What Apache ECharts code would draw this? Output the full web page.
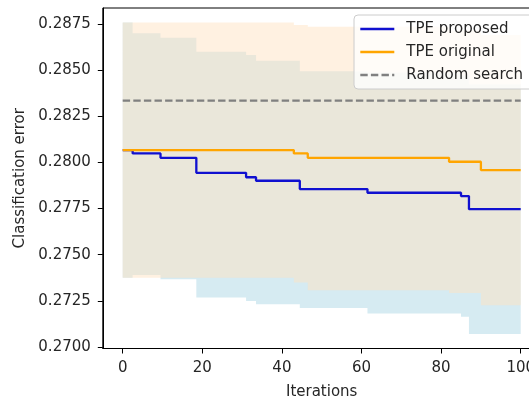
<!DOCTYPE html>
<html>
<head>
<meta charset="utf-8">
<script src="https://cdn.jsdelivr.net/npm/echarts@6/dist/echarts.min.js"></script>
<style>
  html, body { margin: 0; padding: 0; background: #fff; }
  #chart { width: 529px; height: 398px; }
</style>
</head>
<body>
<div id="chart"></div>
<script>
// step breakpoints (value holds until the next iteration)
const blueIters = [0, 2.5, 9.5, 18.5, 31, 33.5, 44.5, 61.5, 85, 87, 100]
const blueMean = [0.28067, 0.28049, 0.28025, 0.27944, 0.27920, 0.27901, 0.27856, 0.27836, 0.27818, 0.27747, 0.27747]
const blueLower = [0.27375, 0.27390, 0.27367, 0.27268, 0.27249, 0.27232, 0.27212, 0.27182, 0.27164, 0.27070, 0.27070]
const blueUpper = [0.28759, 0.28700, 0.28676, 0.28600, 0.28582, 0.28551, 0.28494, 0.28488, 0.28472, 0.28424, 0.28424]

const orangeIters = [0, 43, 46.5, 82, 90, 100]
const orangeMean = [0.28067, 0.28049, 0.28025, 0.28004, 0.27959, 0.27959]
const orangeLower = [0.27375, 0.27350, 0.27308, 0.27293, 0.27227, 0.27227]
const orangeUpper = [0.28759, 0.28745, 0.28735, 0.28715, 0.28691, 0.28691]

const randomIters = [0, 100]
const randomValue = 0.28335

const xTicks = [0, 20, 40, 60, 80, 100]
const yTicks = [0.2700, 0.2725, 0.2750, 0.2775, 0.2800, 0.2825, 0.2850, 0.2875]

const font = 'DejaVu Sans'
const textColor = '#262626'

const pairs = (xs, ys) => xs.map((x, i) => [x, ys[i]])

// shaded step band between lo and hi, drawn as one polygon through the axes
function band(name, xs, lo, hi, fill) {
  return {
    name: name,
    type: 'custom',
    silent: true,
    data: [[xs[0], lo[0]]],
    renderItem(params, api) {
      const top = []
      const bottom = []
      for (let i = 0; i < xs.length - 1; i++) {
        top.push(api.coord([xs[i], hi[i]]), api.coord([xs[i + 1], hi[i]]))
        bottom.push(api.coord([xs[i], lo[i]]), api.coord([xs[i + 1], lo[i]]))
      }
      return {
        type: 'polygon',
        shape: { points: top.concat(bottom.reverse()) },
        style: { fill: fill }
      }
    }
  }
}

const chart = echarts.init(document.getElementById('chart'))
chart.setOption({
  animation: false,
  textStyle: { fontFamily: font },
  grid: {
    left: 102.8,
    top: 8,
    width: 437.8,
    height: 340.5,
    containLabel: false,
    outerBoundsMode: 'none',
    show: true,
    borderColor: '#000',
    borderWidth: 1,
    backgroundColor: 'transparent'
  },
  legend: {
    orient: 'vertical',
    left: 354,
    top: 15,
    padding: [6, 40, 6, 5],
    itemWidth: 34,
    itemHeight: 14,
    itemGap: 7,
    backgroundColor: 'rgba(255,255,255,0.8)',
    borderColor: '#cccccc',
    borderWidth: 1,
    borderRadius: 4,
    itemStyle: { opacity: 0 },
    lineStyle: { width: 2.6 },
    data: ['TPE proposed', 'TPE original', 'Random search'],
    textStyle: {
      fontFamily: font,
      fontSize: 15,
      lineHeight: 16,
      color: textColor,
      padding: [0, 0, 0, 7]
    }
  },
  xAxis: {
    type: 'value',
    min: -5,
    max: 105,
    name: 'Iterations',
    nameLocation: 'middle',
    nameGap: 36,
    nameTextStyle: { fontFamily: font, fontSize: 15, color: textColor },
    axisLine: { show: true, onZero: false, lineStyle: { color: '#000', width: 1 } },
    axisTick: { show: true, length: 5, lineStyle: { color: '#000' }, customValues: xTicks },
    axisLabel: { fontFamily: font, fontSize: 15, color: textColor, margin: 12, customValues: xTicks },
    splitLine: { show: false }
  },
  yAxis: {
    type: 'value',
    min: 0.26992,
    max: 0.28837,
    name: 'Classification error',
    nameLocation: 'middle',
    nameRotate: 90,
    nameGap: 74,
    nameTextStyle: { fontFamily: font, fontSize: 15, color: textColor },
    axisLine: { show: true, onZero: false, lineStyle: { color: '#000', width: 1 } },
    axisTick: { show: true, length: 5, lineStyle: { color: '#000' }, customValues: yTicks },
    axisLabel: {
      fontFamily: font,
      fontSize: 15,
      color: textColor,
      margin: 12,
      customValues: yTicks,
      formatter: v => v.toFixed(4)
    },
    splitLine: { show: false }
  },
  series: [
    band('blue band', blueIters, blueLower, blueUpper, 'rgba(173,216,230,0.5)'),
    band('orange band', orangeIters, orangeLower, orangeUpper, 'rgba(255,228,196,0.5)'),
    {
      name: 'Random search',
      type: 'line',
      symbol: 'none',
      lineStyle: { color: '#808080', width: 2.2, type: [7.4, 3.2] },
      itemStyle: { color: '#808080' },
      data: randomIters.map(x => [x, randomValue])
    },
    {
      name: 'TPE proposed',
      type: 'line',
      step: 'end',
      symbol: 'none',
      lineStyle: { color: '#1010d0', width: 2.3 },
      itemStyle: { color: '#1010d0' },
      data: pairs(blueIters, blueMean)
    },
    {
      name: 'TPE original',
      type: 'line',
      step: 'end',
      symbol: 'none',
      lineStyle: { color: '#ffa500', width: 2.3 },
      itemStyle: { color: '#ffa500' },
      data: pairs(orangeIters, orangeMean)
    }
  ]
})
</script>
</body>
</html>
